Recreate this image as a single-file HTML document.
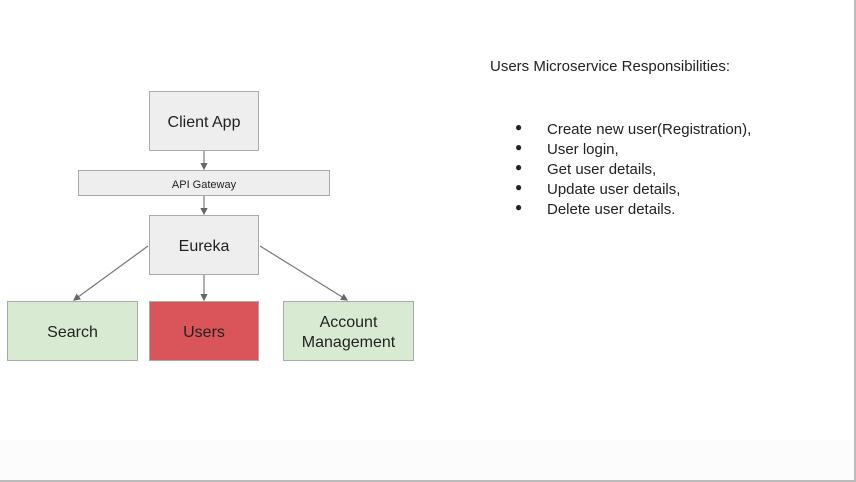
<!DOCTYPE html>
<html><head><style>
body{margin:0;width:856px;height:482px;background:#fff;position:relative;overflow:hidden;font-family:"Liberation Sans",sans-serif;color:#222}
.b{position:absolute;box-sizing:border-box;border:1.5px solid #aaa;background:#eeeeee;display:flex;align-items:center;justify-content:center;text-align:center;font-size:16px;line-height:20px;padding-top:3px}
.frame{position:absolute;left:0;top:0;width:856px;height:482px;box-sizing:border-box;border-right:2px solid #bbb;border-bottom:2px solid #bbb}
.li{position:absolute;left:547px;font-size:15px;line-height:20px}
.li:before{content:"●";position:absolute;left:-32px;top:-3px;font-size:12px}
</style></head><body>
<div style="position:absolute;left:0;top:440px;width:856px;height:42px;background:#fcfcfc"></div>
<svg width="856" height="482" style="position:absolute;left:0;top:0">
<defs><marker id="a" markerWidth="6" markerHeight="6" refX="5" refY="3" orient="auto"><path d="M0,0L6,3L0,6z" fill="#666"/></marker></defs>
<g stroke="#777" stroke-width="1.2" fill="none">
<line x1="204" y1="150" x2="204" y2="169" marker-end="url(#a)"/>
<line x1="204" y1="196" x2="204" y2="214" marker-end="url(#a)"/>
<line x1="204" y1="274" x2="204" y2="300" marker-end="url(#a)"/>
<line x1="148" y1="246" x2="74" y2="300" marker-end="url(#a)"/>
<line x1="260" y1="246" x2="347" y2="300" marker-end="url(#a)"/>
</g></svg>
<div class="b" style="left:149px;top:91px;width:110px;height:60px">Client App</div>
<div class="b" style="left:78px;top:170px;width:252px;height:26px;font-size:11px">API Gateway</div>
<div class="b" style="left:149px;top:215px;width:110px;height:60px">Eureka</div>
<div class="b" style="left:7px;top:301px;width:131px;height:60px;background:#d9ead3">Search</div>
<div class="b" style="left:149px;top:301px;width:110px;height:60px;background:#d9555a">Users</div>
<div class="b" style="left:283px;top:301px;width:131px;height:60px;background:#d9ead3">Account<br>Management</div>
<div style="position:absolute;left:490px;top:57px;font-size:15px;line-height:20px">Users Microservice Responsibilities:</div>
<div class="li" style="top:120px">Create new user(Registration),</div>
<div class="li" style="top:140px">User login,</div>
<div class="li" style="top:160px">Get user details,</div>
<div class="li" style="top:180px">Update user details,</div>
<div class="li" style="top:200px">Delete user details.</div>
<div class="frame"></div>
</body></html>
